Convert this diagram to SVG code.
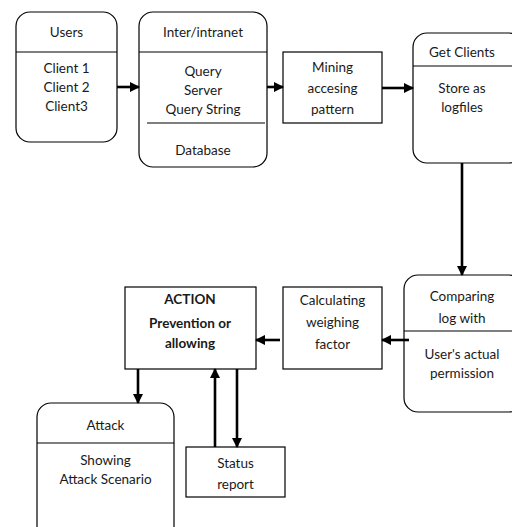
<svg xmlns="http://www.w3.org/2000/svg" width="512" height="527" viewBox="0 0 512 527">
<defs>
<marker id="ah" viewBox="0 0 10 10" refX="9" refY="5" markerWidth="4" markerHeight="4" orient="auto" markerUnits="strokeWidth">
<path d="M0,0 L10,5 L0,10 z" fill="#000"/>
</marker>
<style>
.box{fill:#fff;stroke:#000;stroke-width:1.2}
.div{stroke:#000;stroke-width:1.2}
.t{font-family:Lato,"Liberation Sans",sans-serif;font-size:13.5px;fill:#1a1a1a;text-anchor:middle}
.b{font-weight:bold}
.c{stroke:#000;stroke-width:2.6;fill:none}
.ca{stroke:#000;stroke-width:2.6;fill:none;marker-end:url(#ah)}
</style>
</defs>
<rect width="512" height="527" fill="#fff"/>
<g id="users">
<rect class="box" x="16" y="12" width="101" height="130" rx="14"/>
<line class="div" x1="16" y1="52" x2="117" y2="52"/>
<text class="t" x="66.5" y="37">Users</text>
<text class="t" x="66.5" y="73">Client 1</text>
<text class="t" x="66.5" y="92">Client 2</text>
<text class="t" x="66.5" y="111">Client3</text>
</g>
<g id="internet">
<rect class="box" x="139" y="12" width="128" height="155" rx="14"/>
<line class="div" x1="139" y1="52" x2="267" y2="52"/>
<line class="div" x1="147" y1="123" x2="265" y2="123"/>
<text class="t" x="203" y="37">Inter/intranet</text>
<text class="t" x="203" y="76">Query</text>
<text class="t" x="203" y="95">Server</text>
<text class="t" x="203" y="114">Query String</text>
<text class="t" x="203" y="155">Database</text>
</g>
<g id="mining">
<rect class="box" x="283" y="52" width="99" height="71"/>
<text class="t" x="332.5" y="72">Mining</text>
<text class="t" x="332.5" y="93">accesing</text>
<text class="t" x="332.5" y="114">pattern</text>
</g>
<g id="getclients">
<rect class="box" x="413" y="33" width="110" height="130" rx="14"/>
<line class="div" x1="413" y1="66" x2="512" y2="66"/>
<text class="t" x="462" y="57">Get Clients</text>
<text class="t" x="462" y="93">Store as</text>
<text class="t" x="462" y="112">logfiles</text>
</g>
<g id="comparing">
<rect class="box" x="404" y="275" width="119" height="137" rx="14"/>
<line class="div" x1="404" y1="331" x2="512" y2="331"/>
<text class="t" x="462" y="301">Comparing</text>
<text class="t" x="462" y="323">log with</text>
<text class="t" x="462" y="359">User's actual</text>
<text class="t" x="462" y="378">permission</text>
</g>
<g id="calculating">
<rect class="box" x="283" y="287" width="99" height="82"/>
<text class="t" x="332.5" y="305">Calculating</text>
<text class="t" x="332.5" y="327">weighing</text>
<text class="t" x="332.5" y="349">factor</text>
</g>
<g id="action">
<rect class="box" x="125" y="287" width="131" height="82"/>
<text class="t b" x="190" y="304">ACTION</text>
<text class="t b" x="190" y="328">Prevention or</text>
<text class="t b" x="190" y="348">allowing</text>
</g>
<g id="attack">
<rect class="box" x="37" y="403" width="137" height="150" rx="14"/>
<line class="div" x1="37" y1="443" x2="174" y2="443"/>
<text class="t" x="105.5" y="430">Attack</text>
<text class="t" x="105.5" y="465">Showing</text>
<text class="t" x="105.5" y="484">Attack Scenario</text>
</g>
<g id="status">
<rect class="box" x="186" y="447" width="99" height="50"/>
<text class="t" x="235.5" y="468">Status</text>
<text class="t" x="235.5" y="489">report</text>
</g>
<g id="connectors">
<line class="ca" x1="117" y1="87" x2="139" y2="87"/>
<line class="ca" x1="267" y1="87" x2="283" y2="87"/>
<line class="ca" x1="382" y1="88" x2="413" y2="88"/>
<line class="ca" x1="462" y1="163" x2="462" y2="275"/>
<line class="ca" x1="409" y1="340" x2="382" y2="340"/>
<line class="ca" x1="280" y1="340" x2="256" y2="340"/>
<line class="ca" x1="138" y1="369" x2="138" y2="403"/>
<line class="ca" x1="215" y1="447" x2="215" y2="369"/>
<line class="ca" x1="237" y1="369" x2="237" y2="447"/>
</g>
</svg>
